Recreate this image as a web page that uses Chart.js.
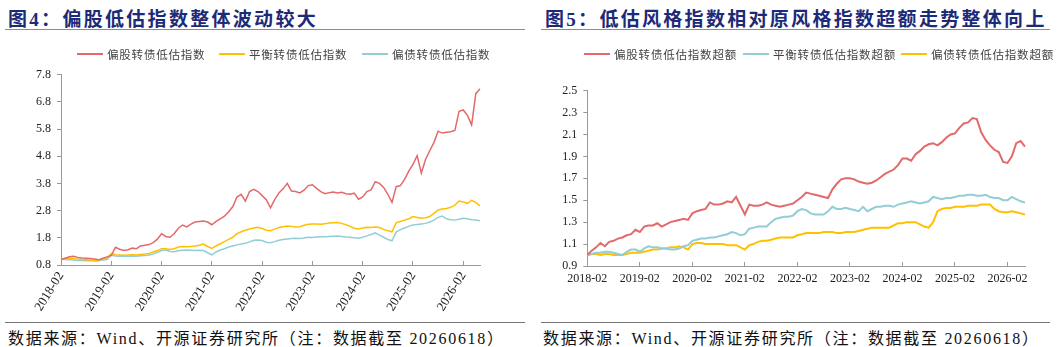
<!DOCTYPE html>
<html>
<head>
<meta charset="utf-8">
<script src="https://cdn.jsdelivr.net/npm/chart.js@4.4.1/dist/chart.umd.min.js"></script>
<style>
body{margin:0;width:1057px;height:347px;background:#fff;position:relative;overflow:hidden;font-family:"Liberation Serif","Noto Sans CJK SC",serif}
.t{position:absolute;top:4px;font-weight:bold;font-size:19px;color:#1c2a78;letter-spacing:2.3px;white-space:nowrap}
.rule{position:absolute;top:29px;border-top:1.5px solid #8c8c8c}
.rule2{position:absolute;top:322px;border-top:1.5px solid #777}
.src{position:absolute;top:325px;font-size:16px;color:#111;letter-spacing:1.7px;white-space:nowrap}
.lg{position:absolute;top:46px;height:15px;display:flex;align-items:center;font-family:"Noto Sans CJK SC";font-size:11.5px;letter-spacing:0.8px;color:#444;white-space:nowrap}
.lg i{display:inline-block;width:26px;height:2px;margin-right:4px}
canvas{position:absolute;top:60px}
</style>
</head>
<body>
<div class="t" style="left:8px">图4：偏股低估指数整体波动较大</div>
<div class="rule" style="left:5px;width:520px"></div>
<canvas id="c1" width="528" height="260" style="left:0"></canvas>
<div class="rule2" style="left:5px;width:520px"></div>
<div class="src" style="left:8px">数据来源：Wind、开源证券研究所（注：数据截至 20260618）</div>

<div class="t" style="left:545px">图5：低估风格指数相对原风格指数超额走势整体向上</div>
<div class="rule" style="left:541px;width:509px"></div>
<canvas id="c2" width="527" height="260" style="left:530px"></canvas>
<div class="rule2" style="left:541px;width:509px"></div>
<div class="src" style="left:543px">数据来源：Wind、开源证券研究所（注：数据截至 20260618）</div>

<script>
// monthly points, 2018-02 .. 2026-06
var months = [];
for (var k = 0; k <= 100; k++) {
  var mm = 1 + k;
  var yy = 2018 + Math.floor(mm / 12);
  months.push(yy + '-' + ('0' + (mm % 12 + 1)).slice(-2));
}

var leftNames = ['偏股转债低估指数', '平衡转债低估指数', '偏债转债低估指数'];
var rightNames = ['偏股转债低估指数超额', '平衡转债低估指数超额', '偏债转债低估指数超额'];

var leftEquity = [
  1.00,1.05,1.10,1.12,1.08,1.06,1.05,1.04,1.02,0.99,
  1.05,1.10,1.15,1.45,1.38,1.33,1.36,1.42,1.40,1.50,
  1.53,1.55,1.62,1.75,1.95,1.85,1.82,1.95,2.15,2.27,
  2.20,2.30,2.38,2.40,2.42,2.38,2.28,2.40,2.50,2.60,
  2.75,2.95,3.30,3.40,3.15,3.50,3.58,3.50,3.35,3.20,
  2.90,3.20,3.45,3.60,3.80,3.52,3.50,3.45,3.55,3.72,
  3.75,3.62,3.50,3.42,3.46,3.48,3.45,3.47,3.42,3.40,
  3.44,3.22,3.30,3.50,3.56,3.86,3.80,3.65,3.40,3.10,
  3.68,3.72,3.95,4.25,4.50,4.82,4.18,4.68,5.00,5.30,
  5.72,5.65,5.68,5.70,5.75,6.45,6.50,6.30,5.95,7.10,
  7.28
];
var leftBalanced = [
  1.02,1.04,1.05,1.03,1.02,1.00,0.99,0.98,0.97,0.98,
  1.02,1.06,1.22,1.18,1.17,1.16,1.17,1.18,1.17,1.19,
  1.20,1.22,1.28,1.33,1.40,1.40,1.37,1.40,1.46,1.48,
  1.47,1.48,1.50,1.53,1.57,1.48,1.41,1.50,1.58,1.66,
  1.74,1.82,1.95,2.02,2.08,2.12,2.16,2.19,2.14,2.08,
  2.06,2.12,2.18,2.21,2.23,2.22,2.20,2.21,2.26,2.30,
  2.31,2.31,2.30,2.32,2.34,2.35,2.36,2.33,2.28,2.22,
  2.15,2.12,2.16,2.19,2.18,2.20,2.18,2.11,2.06,2.02,
  2.36,2.40,2.45,2.50,2.58,2.55,2.52,2.54,2.58,2.70,
  2.82,2.86,2.88,2.92,3.00,3.15,3.12,3.06,3.18,3.10,
  2.97
];
var leftBond = [
  1.02,1.00,0.99,0.98,0.97,0.97,0.96,0.96,0.95,0.96,
  0.98,1.00,1.16,1.13,1.12,1.13,1.12,1.13,1.12,1.14,
  1.15,1.17,1.20,1.27,1.33,1.35,1.30,1.29,1.32,1.34,
  1.35,1.34,1.33,1.34,1.33,1.25,1.17,1.28,1.35,1.40,
  1.46,1.50,1.54,1.57,1.60,1.65,1.71,1.72,1.70,1.64,
  1.62,1.66,1.71,1.74,1.76,1.77,1.78,1.77,1.79,1.82,
  1.81,1.83,1.84,1.84,1.85,1.86,1.87,1.85,1.83,1.82,
  1.80,1.78,1.82,1.87,1.92,1.98,1.90,1.82,1.74,1.69,
  2.02,2.10,2.16,2.22,2.27,2.29,2.31,2.33,2.38,2.45,
  2.55,2.60,2.50,2.46,2.45,2.48,2.52,2.50,2.46,2.45,
  2.43
];

var rightEquity = [
  1.00,1.04,1.07,1.11,1.08,1.12,1.13,1.15,1.16,1.18,
  1.19,1.23,1.21,1.26,1.27,1.27,1.29,1.26,1.28,1.30,
  1.31,1.32,1.33,1.32,1.38,1.40,1.41,1.42,1.48,1.46,
  1.46,1.47,1.49,1.48,1.53,1.45,1.37,1.46,1.45,1.45,
  1.46,1.48,1.46,1.45,1.44,1.45,1.46,1.47,1.50,1.53,
  1.57,1.56,1.55,1.54,1.53,1.52,1.60,1.65,1.69,1.70,
  1.70,1.69,1.67,1.66,1.65,1.66,1.68,1.71,1.74,1.76,
  1.78,1.82,1.88,1.88,1.86,1.92,1.95,1.99,2.01,2.02,
  2.00,2.03,2.07,2.10,2.11,2.16,2.20,2.21,2.25,2.24,
  2.12,2.05,2.00,1.96,1.94,1.85,1.84,1.90,2.02,2.04,
  1.99
];
var rightBalanced = [
  1.00,1.01,1.02,1.02,1.03,1.03,1.02,1.01,1.00,1.03,
  1.05,1.05,1.03,1.06,1.08,1.07,1.07,1.06,1.06,1.05,
  1.05,1.06,1.08,1.09,1.13,1.14,1.15,1.15,1.16,1.16,
  1.17,1.18,1.19,1.21,1.20,1.18,1.19,1.24,1.25,1.26,
  1.26,1.26,1.30,1.33,1.34,1.35,1.35,1.36,1.40,1.42,
  1.41,1.38,1.37,1.37,1.37,1.40,1.44,1.42,1.42,1.43,
  1.42,1.41,1.40,1.44,1.40,1.42,1.44,1.44,1.45,1.45,
  1.44,1.46,1.47,1.48,1.49,1.48,1.47,1.48,1.49,1.53,
  1.52,1.51,1.52,1.52,1.53,1.54,1.54,1.55,1.55,1.54,
  1.54,1.55,1.53,1.52,1.52,1.50,1.50,1.53,1.51,1.49,
  1.48
];
var rightBond = [
  1.00,1.01,1.01,1.00,1.01,1.01,1.00,1.00,1.00,1.01,
  1.02,1.02,1.02,1.03,1.04,1.05,1.05,1.06,1.06,1.07,
  1.07,1.08,1.07,1.05,1.10,1.11,1.11,1.10,1.10,1.10,
  1.10,1.10,1.09,1.09,1.09,1.07,1.05,1.09,1.10,1.12,
  1.13,1.13,1.14,1.15,1.16,1.16,1.16,1.16,1.18,1.19,
  1.20,1.20,1.20,1.20,1.21,1.21,1.21,1.20,1.20,1.21,
  1.21,1.21,1.22,1.23,1.24,1.25,1.25,1.25,1.25,1.25,
  1.27,1.29,1.29,1.30,1.30,1.30,1.28,1.26,1.25,1.30,
  1.40,1.42,1.43,1.43,1.44,1.44,1.44,1.45,1.45,1.45,
  1.46,1.46,1.46,1.42,1.40,1.39,1.39,1.40,1.39,1.38,
  1.37
];

var RED = '#e26a6b', GOLD = '#ffc000', TEAL = '#93cdd5';
var leftColors = [RED, GOLD, TEAL];
var rightColors = [RED, TEAL, GOLD];

function addLegend(names, colors, xs) {
  names.forEach(function (name, i) {
    var d = document.createElement('div');
    d.className = 'lg';
    d.style.left = xs[i] + 'px';
    d.innerHTML = '<i style="background:' + colors[i] + '"></i>' + name;
    document.body.appendChild(d);
  });
}

function lineChart(id, names, values, colors, cfg) {
  var datasets = names.map(function (name, i) {
    return {
      label: name, data: values[i],
      borderColor: colors[i], backgroundColor: colors[i],
      borderWidth: cfg.lineWidth, pointRadius: 0, tension: 0
    };
  });
  return new Chart(document.getElementById(id), {
    type: 'line',
    data: { labels: months, datasets: datasets },
    options: {
      responsive: false,
      animation: false,
      layout: { padding: { top: cfg.top, right: cfg.right, left: 0, bottom: 0 } },
      plugins: { legend: { display: false }, tooltip: { enabled: false } },
      scales: {
        x: {
          border: { color: '#999' },
          grid: { drawOnChartArea: false, tickLength: -4, color: '#999' },
          ticks: {
            autoSkip: false, maxRotation: cfg.rot, minRotation: cfg.rot,
            padding: cfg.xPad, color: '#222',
            font: { family: 'Liberation Serif', size: cfg.xFont },
            callback: function (v) {
              var l = this.getLabelForValue(v);
              return l.slice(5) === '02' ? l : null;
            }
          },
          afterFit: function (s) { s.height = cfg.xHeight; }
        },
        y: {
          min: cfg.min, max: cfg.max,
          border: { color: '#999' },
          grid: { drawOnChartArea: false, tickLength: 4, color: '#999' },
          ticks: {
            stepSize: cfg.step, padding: 6, color: '#222',
            font: { family: 'Liberation Serif', size: 12 },
            callback: function (v) { return v.toFixed(1); }
          },
          afterFit: function (s) { s.width = cfg.yWidth; }
        }
      }
    }
  });
}

addLegend(leftNames, leftColors, [77, 219, 362]);
addLegend(rightNames, rightColors, [584, 743, 901]);

lineChart('c1', leftNames, [leftEquity, leftBalanced, leftBond], leftColors, {
  lineWidth: 1.5, top: 14.6, right: 48, yWidth: 61, xHeight: 55,
  min: 0.8, max: 7.8, step: 1, rot: 58, xPad: 8, xFont: 13
});
lineChart('c2', rightNames, [rightEquity, rightBalanced, rightBond], rightColors, {
  lineWidth: 2, top: 30.6, right: 32, yWidth: 57.3, xHeight: 54,
  min: 0.9, max: 2.5, step: 0.2, rot: 0, xPad: 10, xFont: 12
});
</script>
</body>
</html>
